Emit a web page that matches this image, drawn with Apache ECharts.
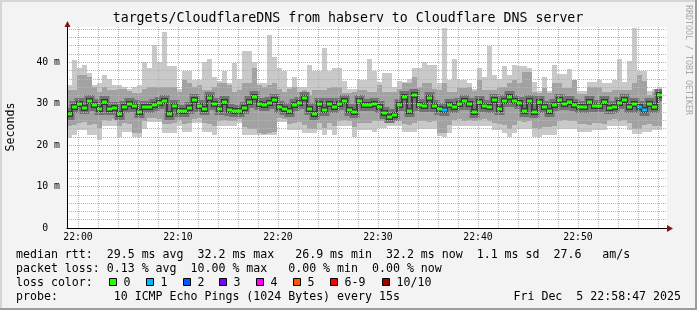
<!DOCTYPE html>
<html><head><meta charset="utf-8">
<script src="https://cdn.jsdelivr.net/npm/echarts@6/dist/echarts.min.js"></script>
<style>html,body{margin:0;padding:0;background:#f3f3f3}#c{width:697px;height:310px}</style>
</head><body><div id="c"></div>
<script>
// time in minutes relative to 22:00, one step = 30 s
const stepStart = -1.1;
const stepLen = 0.5;
const medianRtt = [27.5,29.3,30.0,29.0,30.7,29.7,28.7,30.3,28.8,28.9, 27.5,29.3,30.0,29.4,28.0,29.2,29.2,29.7,30.1,30.7,
 27.6,29.4,28.3,28.3,28.9,31.0,29.5,28.7,31.4,29.9, 28.7,30.3,28.5,28.3,28.3,28.9,30.5,31.6,29.9,29.7,
 30.2,31.0,29.3,28.7,28.3,29.7,30.1,31.3,28.8,27.6, 29.9,28.5,29.8,29.3,29.8,30.6,28.5,28.1,30.6,29.7,
 29.7,29.8,29.3,27.8,26.9,27.3,29.7,31.7,28.3,32.1, 29.7,29.4,31.4,29.4,28.8,28.5,29.7,29.1,29.9,30.6,
 29.9,28.0,30.4,29.4,29.3,31.0,28.8,30.7,31.5,30.7, 30.1,28.3,30.6,28.0,30.3,29.2,28.3,29.7,31.0,30.0,
 30.5,29.7,29.3,29.1,30.5,29.4,29.4,30.3,28.9,29.1, 30.1,31.0,29.3,29.9,29.1,28.5,30.0,29.1,32.2];
const pingMax = [34.5,40.5,38.5,39.4,37.5,34.5,35.0,37.0,36.0,34.5, 34.5,34.0,33.6,34.0,34.5,40.0,38.5,44.2,40.0,47.4,
 39.0,39.0,33.5,38.0,38.0,35.7,35.7,40.0,40.8,36.5, 35.5,37.8,35.0,39.7,36.0,42.6,42.6,40.0,35.0,35.0,
 46.6,41.2,38.5,37.8,34.0,36.5,34.0,34.0,39.4,37.8, 37.8,43.4,37.8,38.5,38.5,35.5,33.6,33.6,35.7,35.7,
 40.8,37.8,35.3,37.4,37.4,34.0,35.5,35.3,36.0,38.5, 38.5,40.0,39.4,39.4,35.0,48.2,35.7,40.8,35.7,35.7,
 35.0,33.6,38.5,36.5,43.8,37.0,36.0,39.0,37.0,39.4, 39.0,39.0,38.5,35.3,33.1,36.5,33.1,39.4,37.2,37.2,
 38.3,35.3,33.0,33.0,35.3,35.3,35.7,35.0,35.0,35.7, 40.8,35.3,40.3,48.2,37.8,37.8,33.0,33.5,34.0];
const pingHi = [33.3,33.3,36.9,36.9,36.5,34.0,32.9,34.0,33.3,33.3, 33.5,33.5,33.0,32.5,32.5,33.5,34.1,34.1,34.1,34.1,
 34.1,34.1,32.9,35.7,35.0,34.0,34.5,33.3,33.3,34.0, 34.9,34.9,34.5,32.9,33.3,34.9,34.9,38.5,34.5,34.1,
 34.5,34.9,33.5,32.9,33.5,34.0,32.9,33.3,32.1,33.3, 33.3,33.3,33.8,34.1,34.1,32.5,32.5,32.7,33.3,33.3,
 32.9,32.9,34.5,32.9,32.9,32.9,33.5,34.9,35.0,36.4, 34.1,34.9,34.9,33.5,33.3,35.0,32.9,32.9,33.7,33.7,
 34.1,33.0,35.7,33.3,33.3,33.3,34.1,34.1,35.0,35.7, 35.0,37.7,37.7,32.9,32.5,33.7,32.6,34.9,34.9,33.7,
 33.7,35.7,32.4,32.4,34.1,34.1,34.1,32.9,32.9,33.3, 33.3,33.3,33.3,34.9,36.9,35.5,32.2,32.8,33.4];
const pingLo = [24.5,24.8,25.3,25.6,24.8,25.0,24.2,26.0,25.8,26.2, 24.6,25.4,25.2,23.0,23.0,25.8,26.5,26.6,26.3,25.2,
 25.0,25.3,26.0,25.2,25.4,26.4,26.5,25.3,25.0,24.6, 25.8,26.0,25.7,25.9,26.4,24.3,24.0,24.0,23.0,22.8,
 23.0,23.2,26.5,26.4,25.2,25.3,25.5,24.8,24.0,24.0, 25.3,24.2,25.4,24.5,25.9,26.0,25.8,24.4,25.3,25.4,
 25.3,25.7,25.8,25.7,25.6,25.8,25.9,25.2,24.9,25.3, 25.7,25.9,25.6,25.8,23.0,23.0,24.8,26.0,26.2,25.9,
 26.1,25.8,26.0,26.2,25.8,25.3,25.2,24.8,24.0,24.9, 25.8,25.6,25.9,24.2,24.0,24.4,24.3,24.6,25.8,26.0,
 25.7,25.9,25.0,25.2,24.9,25.3,25.4,25.2,26.0,26.2, 25.9,26.1,25.4,23.8,23.8,24.9,25.0,24.5,24.5];
const pingMin = [21.6,22.4,23.6,23.6,22.4,22.4,21.2,24.5,24.5,24.5, 22.0,23.2,23.2,22.0,22.0,24.0,25.5,25.5,25.5,23.0,
 23.0,23.0,24.5,23.2,23.2,25.3,25.3,23.2,23.2,22.4, 24.5,24.5,24.5,24.5,25.3,22.4,22.4,22.4,22.4,22.4,
 22.4,22.4,25.5,25.5,23.6,23.6,23.6,23.0,23.0,23.0, 23.6,22.4,23.6,22.4,24.5,24.5,24.5,22.0,23.6,23.6,
 23.6,23.2,24.2,24.2,24.5,24.5,24.5,23.2,23.2,23.2, 24.0,24.0,24.0,24.0,22.2,22.0,23.0,24.5,24.5,24.5,
 24.5,24.5,24.5,24.5,24.5,23.6,23.6,23.0,22.0,23.0, 24.0,24.0,24.0,22.0,22.0,22.4,22.4,22.4,24.0,24.0,
 24.0,24.0,23.2,23.2,23.2,23.6,23.6,23.6,24.5,24.5, 24.5,24.5,23.6,22.8,22.8,23.2,23.2,23.6,23.6];
// steps with packet loss: [step index, lost pings]
const lossSteps = [[75,1],[114,1],[115,1]];
const xTickMinutes = [-2,0,2,4,6,8,10,12,14,16,18,20,22,24,26,28,30,32,34,36,38,40,42,44,46,48,50,52,54,56,58];
const xLabelMinutes = [0,10,20,30,40,50];
const lossLabels = ['0','1','2','3','4','5','6-9','10/10'];
const lossColors = ['#26ff00','#00b8ff','#0059ff','#7e00ff','#ff00ff','#ff5500','#ff0000','#a10000'];
const statLines = [
  'median rtt:  29.5 ms avg  32.2 ms max   26.9 ms min  32.2 ms now  1.1 ms sd  27.6   am/s',
  'packet loss: 0.13 % avg  10.00 % max   0.00 % min  0.00 % now',
  'loss color:',
  'probe:        10 ICMP Echo Pings (1024 Bytes) every 15s'
];
const stampText = 'Fri Dec  5 22:58:47 2025';

const MONO = 'DejaVu Sans Mono';
const Y_MAX = 48.5;
const times = medianRtt.map((_, i) => stepStart + i * stepLen);
const lossOf = new Array(medianRtt.length).fill(0);
lossSteps.forEach(([i, l]) => { lossOf[i] = l; });

function bandSeries(lowArr, highArr, color) {
  return {
    type: 'custom', silent: true, animation: false, z: 2,
    encode: {x: [0, 1], y: [2, 3]},
    data: times.map((t, i) => [t, t + stepLen, lowArr[i], highArr[i]]),
    renderItem: (params, api) => {
      const a = api.coord([api.value(0), api.value(2)]);
      const b = api.coord([api.value(1), api.value(3)]);
      const x0 = Math.round(a[0]), x1 = Math.round(b[0]);
      const yt = Math.round(b[1]), yb = Math.round(a[1]);
      return {type: 'rect', shape: {x: x0, y: yt, width: x1 - x0, height: yb - yt}, style: {fill: color}};
    }
  };
}
function medianBand(halfPx, connW, color) {
  return {
    type: 'custom', silent: true, animation: false, z: 3,
    encode: {x: [0, 1], y: [2, 3]},
    data: times.map((t, i) => [t, t + stepLen, medianRtt[i], i + 1 < medianRtt.length ? medianRtt[i + 1] : medianRtt[i]]),
    renderItem: (params, api) => {
      const a = api.coord([api.value(0), api.value(2)]);
      const b = api.coord([api.value(1), api.value(3)]);
      const x0 = Math.round(a[0]), x1 = Math.round(b[0]);
      const y = a[1], yn = b[1];
      const children = [{type: 'rect', shape: {x: x0, y: Math.round(y - halfPx), width: x1 - x0, height: 2 * halfPx}, style: {fill: color}}];
      const top = Math.round(Math.min(y, yn) - halfPx), bot = Math.round(Math.max(y, yn) + halfPx);
      if (params.dataIndex < medianRtt.length - 1)
        children.push({type: 'rect', shape: {x: x1 - connW / 2, y: top, width: connW, height: bot - top}, style: {fill: color}});
      return {type: 'group', children};
    }
  };
}
const greenSeries = {
  type: 'custom', silent: true, animation: false, z: 4,
  encode: {x: [0, 1], y: 2},
  data: times.map((t, i) => [t, t + stepLen, medianRtt[i], lossOf[i]]),
  renderItem: (params, api) => {
    const a = api.coord([api.value(0), api.value(2)]);
    const b = api.coord([api.value(1), api.value(2)]);
    const x0 = Math.round(a[0]), x1 = Math.round(b[0]);
    return {type: 'rect', shape: {x: x0, y: Math.round(a[1]) - 1.5, width: x1 - x0, height: 3},
      style: {fill: lossColors[api.value(3)]}};
  }
};

const RED = '#ec9a9a', GRAY = '#b4b4b4';
// vertical grid lines at every 2 minutes, drawn through the x scale
const vGridSeries = {
  type: 'custom', silent: true, animation: false, z: 5, clip: true,
  encode: {x: 0, y: [1, 2]},
  data: xTickMinutes.map(m => [m, 0, Y_MAX, m % 10 === 0 ? 1 : 0]),
  renderItem: (params, api) => {
    const a = api.coord([api.value(0), 0]);
    const b = api.coord([api.value(0), Y_MAX]);
    const x = Math.round(a[0]) + 0.5;
    return {type: 'line', shape: {x1: x, y1: Math.round(b[1]), x2: x, y2: Math.round(a[1])},
      style: {stroke: api.value(3) ? RED : GRAY, lineWidth: 1, lineDash: [1, 1]}};
  }
};

const graphics = [];
// frame
graphics.push({type:'rect', shape:{x:0,y:0,width:697,height:2}, style:{fill:'#d6d6d6'}, silent:true});
graphics.push({type:'rect', shape:{x:0,y:0,width:2,height:310}, style:{fill:'#d6d6d6'}, silent:true});
graphics.push({type:'rect', shape:{x:695,y:0,width:2,height:310}, style:{fill:'#9c9c9c'}, silent:true});
graphics.push({type:'rect', shape:{x:0,y:308,width:697,height:2}, style:{fill:'#9c9c9c'}, silent:true});
// arrows
graphics.push({type:'polygon', shape:{points:[[64.5,27],[67.5,21],[70.5,27]]}, style:{fill:'#8b1010'}, silent:true, z:10});
graphics.push({type:'polygon', shape:{points:[[667,225],[673,228.5],[667,232]]}, style:{fill:'#8b1010'}, silent:true, z:10});
// title
graphics.push({type:'text', x:348, y:19, style:{text:'targets/CloudflareDNS from habserv to Cloudflare DNS server',
  fontFamily:MONO, fontSize:13.25, fill:'#000', align:'center', verticalAlign:'middle'}, silent:true});
graphics.push({type:'text', x:11, y:127, rotation:Math.PI/2, style:{text:'Seconds', fontFamily:MONO, fontSize:11.6,
  fill:'#000', align:'center', verticalAlign:'middle'}, silent:true});
graphics.push({type:'text', x:688.5, y:60, rotation:-Math.PI/2, style:{text:'RRDTOOL / TOBI OETIKER', fontFamily:MONO, fontSize:8.3,
  fill:'#a8a8a8', align:'center', verticalAlign:'middle'}, silent:true});
const lineY = [254.5, 268.5, 282.5, 296.5];
statLines.forEach((s, k) => graphics.push({type:'text', x:16, y:lineY[k], style:{text:s, fontFamily:MONO, fontSize:11.6,
  fill:'#000', align:'left', verticalAlign:'middle'}, silent:true}));
graphics.push({type:'text', x:681, y:lineY[3], style:{text:stampText, fontFamily:MONO, fontSize:11.6, fill:'#000',
  align:'right', verticalAlign:'middle'}, silent:true});
const boxX = [109.5,146.5,183.5,219.5,256.5,293.5,330.5,382.5];
lossLabels.forEach((lab, k) => {
  graphics.push({type:'rect', shape:{x:boxX[k], y:278.5, width:7, height:7}, style:{fill:lossColors[k], stroke:'#000', lineWidth:1}, silent:true});
  graphics.push({type:'text', x:boxX[k] + 14, y:lineY[2], style:{text:lab, fontFamily:MONO, fontSize:11.6, fill:'#000',
    align:'left', verticalAlign:'middle'}, silent:true});
});

const chart = echarts.init(document.getElementById('c'), null, {renderer:'canvas'});
chart.setOption({
  backgroundColor: '#f3f3f3',
  animation: false,
  textStyle: {fontFamily: MONO},
  grid: {left: 67, right: 30, top: 27, bottom: 82, show: true, backgroundColor: '#ffffff', borderWidth: 0, containLabel: false, outerBoundsMode: 'none'},
  xAxis: {
    type: 'value', min: -1.1, max: 58.9, z: 6,
    axisLine: {show: true, onZero: false, lineStyle: {color: '#000', width: 1}},
    axisTick: {show: false},
    splitLine: {show: false},
    axisLabel: {customValues: xLabelMinutes, color: '#000', fontFamily: MONO, fontSize: 9.8, margin: 4,
      formatter: v => '22:' + String(Math.round(v)).padStart(2, '0')}
  },
  yAxis: {
    type: 'value', min: 0, max: Y_MAX, interval: 2, z: 5,
    axisLine: {show: true, onZero: false, lineStyle: {color: '#000', width: 1}},
    axisTick: {show: false},
    splitLine: {show: true, showMaxLine: false, lineStyle: {color: [RED, GRAY, GRAY, GRAY, GRAY], type: [1, 1], width: 1}},
    axisLabel: {color: '#000', fontFamily: MONO, fontSize: 9.8, margin: 7, showMaxLabel: false,
      formatter: v => v === 0 ? '0  ' : (Math.abs(v % 10) < 1e-9 ? v + ' m' : '')}
  },
  series: [
    bandSeries(pingMin, pingMax, '#c9c9c9'),
    bandSeries(pingLo, pingHi, '#a2a2a2'),
    medianBand(6, 5, '#727272'),
    medianBand(3, 2, '#3a3a3a'),
    greenSeries,
    vGridSeries
  ],
  graphic: graphics
});
</script></body></html>
